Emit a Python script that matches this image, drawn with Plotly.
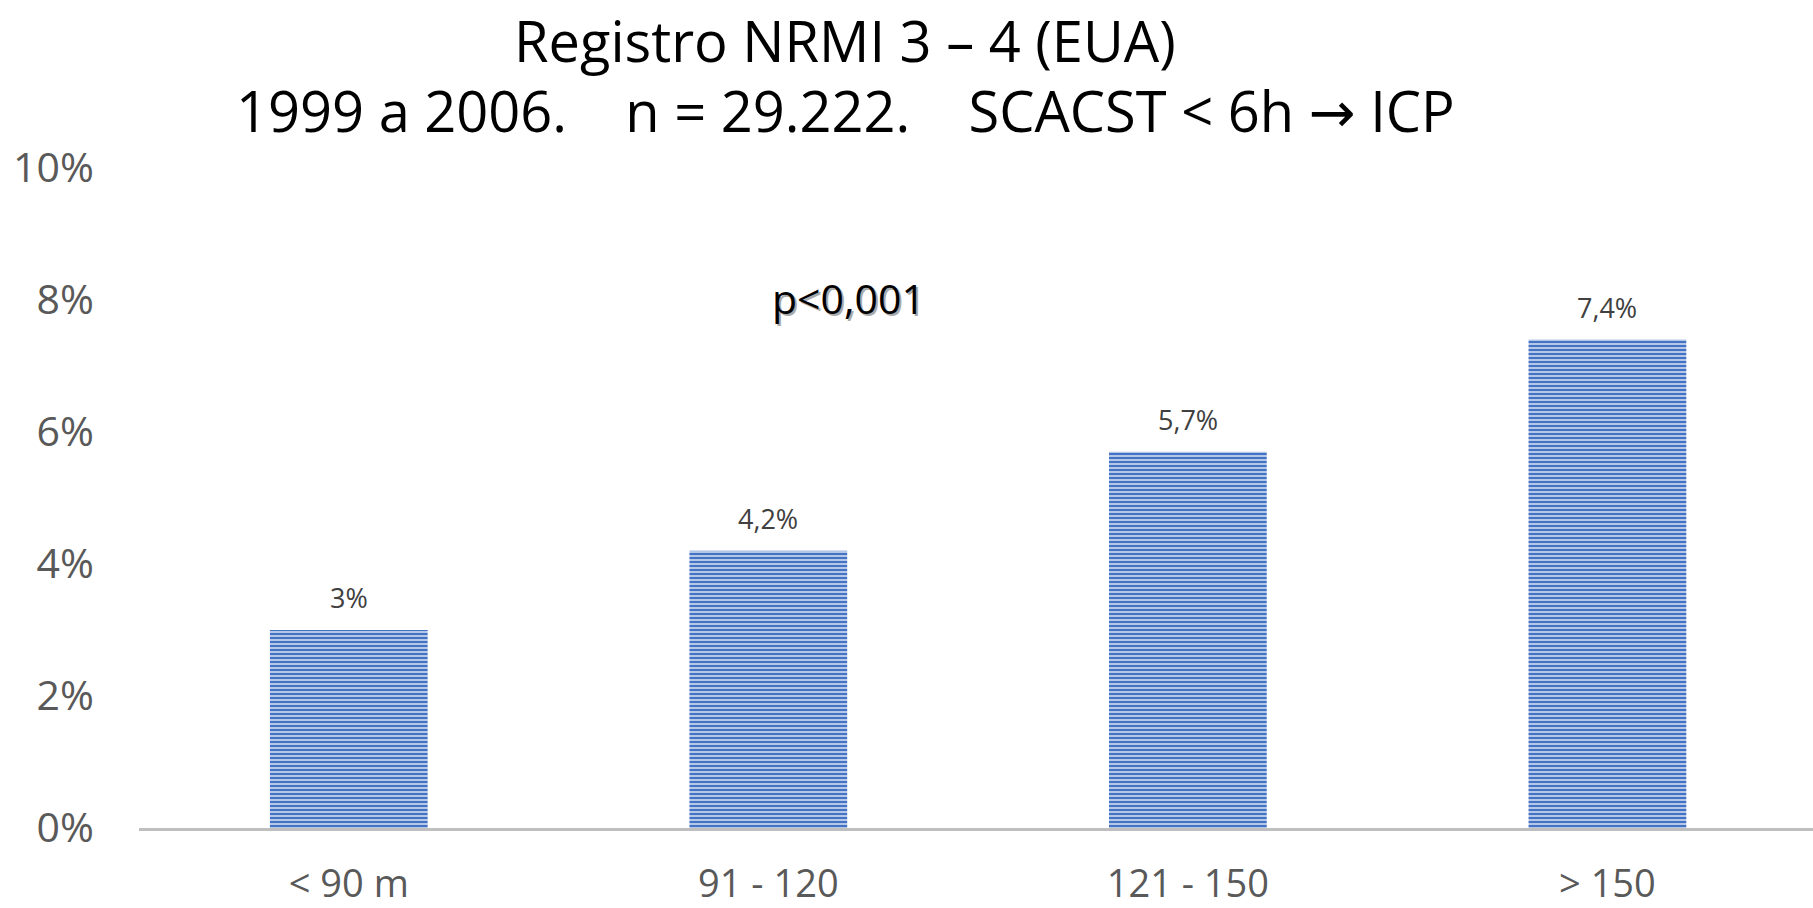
import plotly.graph_objects as go

categories = ["< 90 m", "91 - 120", "121 - 150", "> 150"]
values = [3.0, 4.2, 5.7, 7.4]
value_labels = ["3%", "4,2%", "5,7%", "7,4%"]
y_ticks = [0, 2, 4, 6, 8, 10]
y_tick_labels = ["0%", "2%", "4%", "6%", "8%", "10%"]
title_line1 = "Registro NRMI 3 – 4 (EUA)"
title_line2 = ("1999 a 2006.    n = 29.222.    SCACST &lt; 6h "
               "<span style='font-family:DejaVu Sans'>→</span> ICP")
p_text = "p<0,001"
p_level = 8.03

FONT = "Open Sans"
L, R, T, B = 139, 0, 168, 80
W, H = 1813, 908
PH = H - T - B

fig = go.Figure()
fig.add_trace(go.Bar(
    x=categories, y=values,
    marker=dict(
        color="#D2DCEF",
        line=dict(width=0),
        pattern=dict(shape="-", fgcolor="#4472C4", bgcolor="#D2DCEF",
                     size=4, solidity=0.6, fillmode="replace"),
    ),
    width=0.376,
    hoverinfo="skip",
))

for c, v, t in zip(categories, values, value_labels):
    fig.add_annotation(x=c, y=v, text=t, showarrow=False, yanchor="bottom",
                       yshift=12, font=dict(family=FONT, size=27, color="#404040"))

fig.add_annotation(x=0.424, xref="paper", y=p_level, yref="y", text=p_text,
                   showarrow=False, font=dict(family=FONT, size=41, color="#AAAAAA"),
                   xshift=2, yshift=-2)
fig.add_annotation(x=0.424, xref="paper", y=p_level, yref="y", text=p_text,
                   showarrow=False, font=dict(family=FONT, size=41, color="#000000"))

cx = (845 - L) / (W - L - R)
fig.add_annotation(xref="paper", yref="paper", x=cx, y=1 + (T - 40) / PH,
                   yanchor="middle", text=title_line1, showarrow=False,
                   font=dict(family=FONT, size=56, color="#000000"))
fig.add_annotation(xref="paper", yref="paper", x=cx, y=1 + (T - 110) / PH,
                   yanchor="middle", text=title_line2, showarrow=False,
                   font=dict(family=FONT, size=56, color="#000000"))

fig.update_layout(
    width=W, height=H,
    margin=dict(l=L, r=R, t=T, b=B, autoexpand=False),
    paper_bgcolor="white", plot_bgcolor="white",
    showlegend=False,
    xaxis=dict(
        automargin=False, range=[-0.5, 3.49],
        showgrid=False, showline=True, linecolor="#BFBFBF", linewidth=3,
        ticks="outside", ticklen=20, tickcolor="rgba(0,0,0,0)",
        tickfont=dict(family=FONT, size=38, color="#595959"),
    ),
    yaxis=dict(
        automargin=False,
        range=[0, 10], tickvals=y_ticks, ticktext=y_tick_labels,
        showgrid=False, zeroline=False, showline=False,
        ticks="outside", ticklen=36, tickcolor="rgba(0,0,0,0)",
        tickfont=dict(family=FONT, size=41, color="#595959"),
    ),
)

fig.write_html(
    "out.html",
    config={"displayModeBar": False},
    post_script="document.body.style.margin='0';document.body.style.overflow='hidden';",
)
